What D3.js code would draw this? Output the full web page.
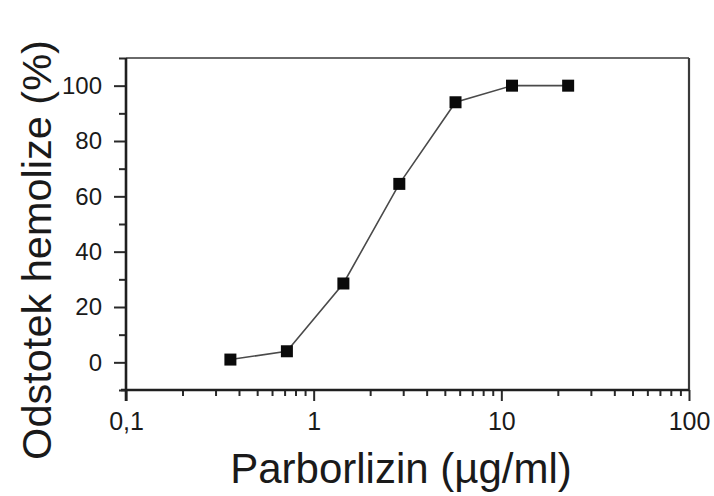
<!DOCTYPE html>
<html>
<head>
<meta charset="utf-8">
<script src="https://cdn.jsdelivr.net/npm/d3@7"></script>
<style>
  html, body { margin: 0; padding: 0; background: #fff; }
  svg { display: block; }
  text { font-family: "Liberation Sans", Arial, sans-serif; fill: #1a1a1a; }
</style>
</head>
<body>
<svg id="chart" width="714" height="496"></svg>
<script>
// ---- data ----
const concentrations = [0.36, 0.72, 1.44, 2.86, 5.7, 11.4, 22.7];
const hemolysis = [1, 4, 28.5, 64.5, 94, 100, 100];
const xMajorTicks = [0.1, 1, 10, 100];
const xTickLabels = ["0,1", "1", "10", "100"];
const yMajorTicks = [0, 20, 40, 60, 80, 100];
const yMinorTicks = [-10, 10, 30, 50, 70, 90, 110];
const xTitle = "Parborlizin (µg/ml)";
const yTitle = "Odstotek hemolize (%)";

// ---- layout ----
const svg = d3.select("#chart");
const L = 126, R = 689, T = 58, B = 390;

const x = d3.scaleLog().domain([0.1, 100]).range([L, R]);
const y = d3.scaleLinear().domain([-10, 110]).range([B, T]);

// frame: top and right
svg.append("line").attr("x1", L).attr("x2", R).attr("y1", T).attr("y2", T)
  .attr("stroke", "#6a6a6a").attr("stroke-width", 2.2);
svg.append("line").attr("x1", R).attr("x2", R).attr("y1", T).attr("y2", B)
  .attr("stroke", "#3a3a3a").attr("stroke-width", 2.2);

// x axis
const xMinor = [];
[0.1, 1, 10].forEach(d => { for (let k = 2; k <= 9; k++) xMinor.push(d * k); });
const gx = svg.append("g").attr("transform", `translate(0,${B})`);
gx.call(d3.axisBottom(x).tickValues(xMinor).tickSize(6).tickFormat(""))
  .call(g => g.select(".domain").remove());
gx.append("g").call(d3.axisBottom(x).tickValues(xMajorTicks).tickSize(11)
    .tickFormat((d, i) => xTickLabels[i]))
  .call(g => g.select(".domain").remove())
  .call(g => g.selectAll("text").attr("font-size", 25).attr("dy", 0).attr("y", 40)
          .style("font-family", "'Liberation Sans', Arial, sans-serif").attr("fill", "#1a1a1a"));
gx.selectAll(".tick line").attr("stroke", "#2a2a2a").attr("stroke-width", 2);
svg.append("line").attr("x1", L - 5).attr("x2", R).attr("y1", B).attr("y2", B)
  .attr("stroke", "#1f1f1f").attr("stroke-width", 2.6);

// y axis
const gy = svg.append("g").attr("transform", `translate(${L},0)`);
gy.call(d3.axisLeft(y).tickValues(yMinorTicks).tickSize(7).tickFormat(""))
  .call(g => g.select(".domain").remove());
gy.append("g").call(d3.axisLeft(y).tickValues(yMajorTicks).tickSize(12).tickPadding(12))
  .call(g => g.select(".domain").remove())
  .call(g => g.selectAll("text").attr("font-size", 24)
          .style("font-family", "'Liberation Sans', Arial, sans-serif").attr("fill", "#1a1a1a"));
gy.selectAll(".tick line").attr("stroke", "#2a2a2a").attr("stroke-width", 2);
svg.append("line").attr("x1", L).attr("x2", L).attr("y1", T).attr("y2", B + 11)
  .attr("stroke", "#1f1f1f").attr("stroke-width", 2.6);

// data line
const pts = concentrations.map((c, i) => [c, hemolysis[i]]);
svg.append("path")
  .datum(pts)
  .attr("fill", "none")
  .attr("stroke", "#4a4a4a")
  .attr("stroke-width", 1.6)
  .attr("d", d3.line().x(d => x(d[0])).y(d => y(d[1])));

// markers
const S = 12;
svg.selectAll("rect.pt").data(pts).enter().append("rect")
  .attr("class", "pt")
  .attr("x", d => x(d[0]) - S / 2)
  .attr("y", d => y(d[1]) - S / 2)
  .attr("width", S).attr("height", S)
  .attr("fill", "#0a0a0a");

// titles
svg.append("text").attr("x", 401).attr("y", 483)
  .attr("text-anchor", "middle").attr("font-size", 42).text(xTitle);
svg.append("text")
  .attr("transform", `translate(51,250) rotate(-90)`)
  .attr("text-anchor", "middle").attr("font-size", 41.5).text(yTitle);
</script>
</body>
</html>
